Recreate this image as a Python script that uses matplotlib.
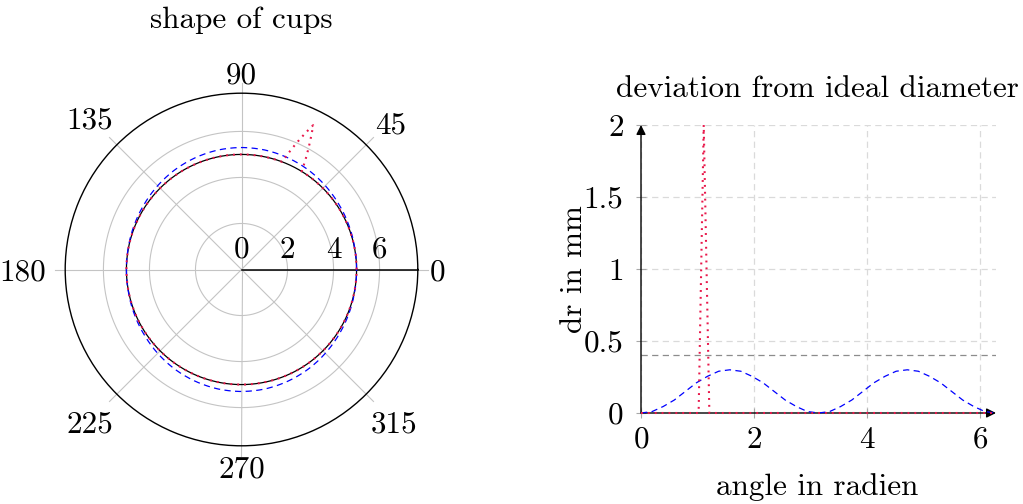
import numpy as np
import matplotlib
matplotlib.use("Agg")
import matplotlib.pyplot as plt
from matplotlib import transforms

plt.rcParams['font.family'] = ['cmr10', 'DejaVu Serif']
plt.rcParams['mathtext.fontset'] = 'cm'
plt.rcParams['axes.formatter.use_mathtext'] = True
FS = 22.4

# ---------------- data ----------------
ideal_radius = 5.0                      # mm
blue_angle = np.linspace(0, 2 * np.pi, 33)   # sampling angles (rad)
blue_dr = [0.0, 0.01, 0.045, 0.09, 0.15, 0.21, 0.255, 0.29, 0.3,
           0.29, 0.255, 0.21, 0.15, 0.09, 0.045, 0.01, 0.0,
           0.01, 0.045, 0.09, 0.15, 0.21, 0.255, 0.29, 0.3,
           0.29, 0.255, 0.21, 0.15, 0.09, 0.045, 0.01, 0.0]
red_angle = [0.0, 1.02, 1.11, 1.21, 2 * np.pi]
red_dr = [0.0, 0.0, 2.0, 0.0, 0.0]
tolerance = 0.4

polar_angle_ticks = [0, 45, 90, 135, 180, 225, 270, 315]
polar_radius_ticks = [0, 2, 4, 6]
x_ticks = [0, 2, 4, 6]
y_ticks = [0, 0.5, 1, 1.5, 2]
y_tick_labels = ['0', '0.5', '1', '1.5', '2']

BLUE = '#0000ff'
RED = '#e8174a'
GRIDC = '#c4c4c4'
RED_LS = (0, (0.9, 2.4))
RED_LW = 1.5

fig = plt.figure(figsize=(10.23, 5.04), dpi=100)
W, H = 1023, 504

# ---------------- polar plot ----------------
cx, cy, R = 241.5, 269.5, 176.3
rmax = 7.66
axp = fig.add_axes([(cx - R) / W, (H - cy - R) / H, 2 * R / W, 2 * R / H],
                   projection='polar')
axp.set_rlim(0, rmax)
axp.set_xticks([])
axp.set_yticks([])
axp.grid(False)
axp.spines['polar'].set_linewidth(1.0)
axp.spines['polar'].set_color('black')

full = np.linspace(0, 2 * np.pi, 721)
for rr in polar_radius_ticks[1:]:
    axp.plot(full, np.full_like(full, rr), color=GRIDC, lw=0.8, zorder=1)
for a in polar_angle_ticks:
    t = np.deg2rad(a)
    axp.plot([t, t], [0, rmax + 0.45], color=GRIDC, lw=0.8, zorder=1,
             clip_on=False)
axp.plot([0, 0], [0, rmax], color='black', lw=1.1, zorder=2, clip_on=False)

# ideal circle
axp.plot(full, np.full_like(full, ideal_radius), color='black', lw=0.9,
         zorder=3)
# blue measured shape
tb = np.union1d(full, blue_angle)
axp.plot(tb, ideal_radius + np.interp(tb, blue_angle, blue_dr), color=BLUE,
         lw=0.9, linestyle=(0, (5, 3.5)), zorder=4)
# red measured shape
tr = np.union1d(full, red_angle)
axp.plot(tr, ideal_radius + np.interp(tr, red_angle, red_dr), color=RED,
         lw=RED_LW, linestyle=RED_LS, zorder=5)

# angle labels
scale = rmax / R  # data units per pixel
label_offsets = {0: (196, 0), 45: (149, 147), 90: (0, 197), 135: (-152, 152),
                 180: (-219, 0), 225: (-152, -152), 270: (0, -197),
                 315: (153, -152)}
for a in polar_angle_ticks:
    dx, dy = label_offsets[a]
    th = np.arctan2(dy, dx)
    rr = np.hypot(dx, dy) * scale
    axp.text(th, rr, str(a), ha='center', va='center_baseline', fontsize=FS,
             clip_on=False)
# radius labels
off = transforms.offset_copy(axp.transData, fig=fig, x=0, y=12, units='dots')
for rr in polar_radius_ticks:
    axp.text(0, rr, str(rr), ha='center', va='baseline', fontsize=FS,
             transform=off, clip_on=False)

fig.text(cx / W, 1 - 28 / H, 'shape of cups', ha='center', va='baseline',
         fontsize=FS)

# ---------------- deviation plot ----------------
x0, y0, x1, y1 = 641, 413, 996, 125
ax = fig.add_axes([x0 / W, (H - y0) / H, (x1 - x0) / W, (y0 - y1) / H])
ax.set_xlim(0, 2 * np.pi)
ax.set_ylim(0, 2)
ax.set_xticks(x_ticks)
ax.set_yticks(y_ticks)
ax.set_yticklabels(y_tick_labels)
ax.tick_params(direction='inout', length=7, width=0.8, color='#a8a8a8',
               labelsize=FS)
ax.tick_params(axis='y', pad=9)
ax.tick_params(axis='x', pad=6)
ax.grid(True, color='#dadada', linestyle=(0, (5, 3.5)), lw=0.9)
ax.set_axisbelow(True)
for s in ax.spines.values():
    s.set_visible(False)
ax.annotate('', xy=(1.0, 0), xytext=(0, 0), xycoords='axes fraction',
            arrowprops=dict(arrowstyle='-|>', color='black', lw=1.0,
                            mutation_scale=14, shrinkA=0, shrinkB=0), zorder=3)
ax.annotate('', xy=(0, 1.0), xytext=(0, 0), xycoords='axes fraction',
            arrowprops=dict(arrowstyle='-|>', color='black', lw=1.0,
                            mutation_scale=14, shrinkA=0, shrinkB=0), zorder=3)

ax.axhline(tolerance, color='#8c8c8c', lw=0.9, linestyle=(0, (5, 3.5)),
           zorder=2)
ax.plot(blue_angle, blue_dr, color=BLUE, lw=0.9, linestyle=(0, (5, 3.5)),
        zorder=4, clip_on=False)
ax.plot(red_angle, red_dr, color=RED, lw=RED_LW, linestyle=RED_LS,
        zorder=5, clip_on=False)

fig.text(817 / W, 1 - 97 / H, 'deviation from ideal diameter', ha='center',
         va='baseline', fontsize=FS)
fig.text(817 / W, 1 - 495 / H, 'angle in radien', ha='center', va='baseline',
         fontsize=FS)
fig.text(574 / W, 1 - 269 / H, 'dr in mm', ha='center', va='center',
         rotation=90, fontsize=FS)

fig.savefig('out.png', dpi=100)
